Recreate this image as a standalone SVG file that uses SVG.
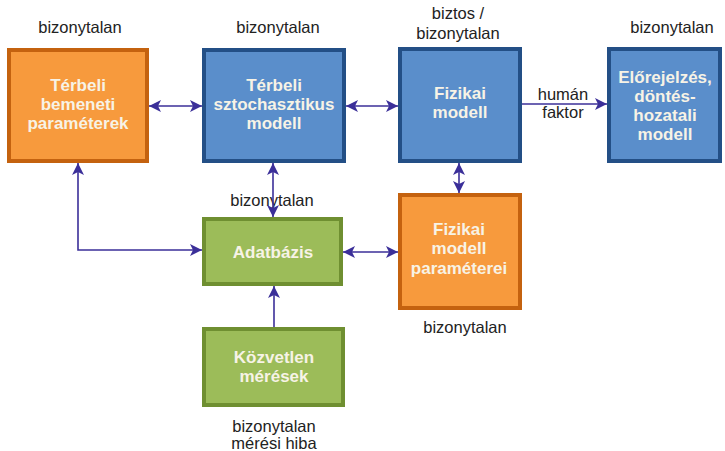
<svg xmlns="http://www.w3.org/2000/svg" width="725" height="451" viewBox="0 0 725 451">
<style>
.lbl{font-family:"Liberation Sans",Arial,sans-serif;font-size:16.5px;fill:#222;text-anchor:middle}
.bt{font-family:"Liberation Sans",Arial,sans-serif;font-size:17px;font-weight:bold;fill:#f7f3e6;text-anchor:middle}
.or{fill:#f79a3d;stroke:#c4620f;stroke-width:4}
.bl{fill:#5a8ecb;stroke:#234f86;stroke-width:4}
.gr{fill:#9cbc59;stroke:#6f8f31;stroke-width:4}
.cn{fill:none;stroke:#3b2f99;stroke-width:1.6}
</style>
<defs>
<marker id="ah" viewBox="0 0 12 12" refX="12" refY="6" markerWidth="12" markerHeight="12" markerUnits="userSpaceOnUse" orient="auto-start-reverse">
<path d="M0,0 L12,6 L0,12 L3,6 Z" fill="#3b2f99"/>
</marker>
</defs>
<rect width="725" height="451" fill="#ffffff"/>
<g id="labels">
<text class="lbl" x="80" y="33">bizonytalan</text>
<text class="lbl" x="278" y="33">bizonytalan</text>
<text class="lbl" x="458" y="19">biztos /</text>
<text class="lbl" x="458" y="39">bizonytalan</text>
<text class="lbl" x="672" y="33">bizonytalan</text>
<text class="lbl" x="272" y="206">bizonytalan</text>
<text class="lbl" x="465" y="333">bizonytalan</text>
<text class="lbl" x="274" y="432">bizonytalan</text>
<text class="lbl" x="274" y="449">mérési hiba</text>
<text class="lbl" x="563" y="100">humán</text>
<text class="lbl" x="563" y="118">faktor</text>
</g>
<g id="connectors">
<line class="cn" x1="149" y1="106" x2="202" y2="106" marker-start="url(#ah)" marker-end="url(#ah)"/>
<line class="cn" x1="346" y1="106" x2="398" y2="106" marker-start="url(#ah)" marker-end="url(#ah)"/>
<line class="cn" x1="522" y1="104" x2="607" y2="104" marker-end="url(#ah)"/>
<line class="cn" x1="459" y1="163" x2="459" y2="193" marker-start="url(#ah)" marker-end="url(#ah)"/>
<line class="cn" x1="273" y1="163" x2="273" y2="217" marker-start="url(#ah)" marker-end="url(#ah)"/>
<polyline class="cn" points="78,163 78,250 202,250" marker-start="url(#ah)" marker-end="url(#ah)"/>
<line class="cn" x1="343" y1="252" x2="398" y2="252" marker-start="url(#ah)" marker-end="url(#ah)"/>
<line class="cn" x1="274" y1="327" x2="274" y2="286" marker-end="url(#ah)"/>
</g>
<g id="terbeli-bemeneti">
<rect class="or" x="9" y="50" width="138" height="111"/>
<text class="bt" x="78" y="91">Térbeli</text>
<text class="bt" x="78" y="110">bemeneti</text>
<text class="bt" x="78" y="129">paraméterek</text>
</g>
<g id="terbeli-sztochasztikus">
<rect class="bl" x="204" y="50" width="140" height="111"/>
<text class="bt" x="274" y="91">Térbeli</text>
<text class="bt" x="274" y="110">sztochasztikus</text>
<text class="bt" x="274" y="129">modell</text>
</g>
<g id="fizikai-modell">
<rect class="bl" x="400" y="49" width="120" height="112"/>
<text class="bt" x="460" y="99">Fizikai</text>
<text class="bt" x="460" y="118">modell</text>
</g>
<g id="elorejelzes">
<rect class="bl" x="609" y="49" width="111" height="112"/>
<text class="bt" x="665" y="83">Előrejelzés,</text>
<text class="bt" x="665" y="102">döntés-</text>
<text class="bt" x="665" y="121">hozatali</text>
<text class="bt" x="665" y="140">modell</text>
</g>
<g id="adatbazis">
<rect class="gr" x="204" y="219" width="137" height="65"/>
<text class="bt" x="273" y="258">Adatbázis</text>
</g>
<g id="kozvetlen">
<rect class="gr" x="204" y="329" width="139" height="76"/>
<text class="bt" x="274" y="363">Közvetlen</text>
<text class="bt" x="274" y="382">mérések</text>
</g>
<g id="fizikai-parameterei">
<rect class="or" x="400" y="195" width="120" height="113"/>
<text class="bt" x="459" y="235">Fizikai</text>
<text class="bt" x="459" y="254">modell</text>
<text class="bt" x="459" y="274">paraméterei</text>
</g>
</svg>
